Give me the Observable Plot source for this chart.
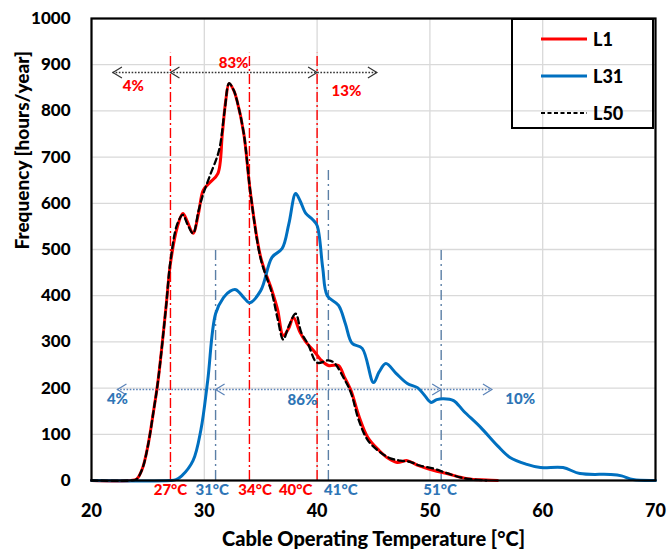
<!DOCTYPE html>
<html><head><meta charset="utf-8">
<script src="https://cdn.jsdelivr.net/npm/d3@7"></script>
<script src="https://cdn.jsdelivr.net/npm/@observablehq/plot@0.6"></script>
<style>
body{margin:0;background:#fff;font-family:Lato,"Open Sans",sans-serif}
#wrap{position:relative;width:667px;height:551px}
#legend{position:absolute;left:511px;top:18px;width:143px;height:111px;box-sizing:border-box;border:2px solid #000;}
#legend .item{position:absolute;left:28px;display:flex;align-items:center;font-weight:900;font-size:18px;color:#000}
#legend svg{margin-right:6px}
</style>
</head><body><div id="wrap"><div id="legend"></div></div>
<script>
// ---- data ----
const seriesNames = ["L1", "L31", "L50"];
const seriesColors = ["#FF0000", "#0070C0", "#000000"];

const l1Temp = [20,23.5,24,24.5,25,25.5,25.9,26.6,27,27.6,28.1,28.5,29,29.5,29.9,30.5,31.2,31.6,31.9,32.2,32.6,32.9,33.5,34.1,35,36,36.5,37,37.5,37.9,38.5,39,39.7,40.3,41,41.9,42.4,43,43.7,44.5,45.5,46.3,47.1,48,49,50.3,51.5,53.3,55,56];
const l1Freq = [0,0,3,25,75,150,216,374,470,548,578,560,535,580,628,645,664,751,822,859,845,822,751,621,483,411,370,314,330,353,320,300,281,262,249,249,225,195,140,93,65,48,39,43,32,22,15,4,1,0];

const l31Temp = [20,27,27.5,28,29,29.7,30.3,31,31.7,32.3,32.8,33.5,34,35,36,36.9,37.5,38.1,38.5,39,39.6,40,40.5,40.9,41.9,42.5,43.1,44,45,45.5,46.1,47,48,48.9,49.5,50.1,50.6,51.2,52.1,53,54.5,56,57.1,58.6,59.8,61.8,63.3,66,67,68,70];
const l31Freq = [0,0,2,10,43,110,216,361,396,410,413,396,385,411,483,502,556,621,605,578,565,552,460,400,379,340,297,286,212,235,253,232,210,201,185,169,175,177,173,150,115,75,50,35,28,28,15,13,10,2,0];

const l50Temp = [20,23.5,24,24.5,25,25.5,25.9,26.6,27,27.6,28.1,28.5,29,29.5,29.9,30.5,31.3,31.8,32.2,32.6,32.9,33.5,34.1,35,36,36.5,37,37.5,38.1,38.6,39.2,40,41,41.5,42.4,43,43.7,44.5,45.6,46.5,47.4,48.3,49,50.3,51.5,53,55];
const l50Freq = [0,0,3,25,75,150,216,374,475,555,575,555,535,585,620,660,714,800,860,845,822,751,621,480,405,350,305,335,361,320,295,255,260,255,220,190,130,87,61,48,43,40,33,26,16,5,0];

const xTicks = [20,30,40,50,60,70];
const yTicks = [0,100,200,300,400,500,600,700,800,900,1000];

// L1/L50 thresholds (red) and L31 thresholds (blue)
const redLimits = [27, 34, 40];
const redLimitTop = 925;
const blueLimits = [31, 41, 51];
const blueLimitTops = [500, 675, 500];

// Degree labels below the axis
const degLabels = ["27°C","31°C","34°C","40°C","41°C","51°C"];
const degLabelX = [27, 30.7, 34.5, 38.1, 42.1, 50.9];
const degLabelColor = ["red","blue","red","red","blue","blue"];

// Share arrows
const redArrowSpan = [21.9, 45.3];
const redArrowLevel = 883;
const redArrowLeftTips = [21.9, 27];
const redArrowRightTips = [40, 45.3];
const redShares = ["4%", "83%", "13%"];
const redShareX = [23.7, 32.6, 42.6];
const redShareY = [853, 903, 842];

const blueArrowSpan = [22.3, 55.5];
const blueArrowLevel = 197;
const blueArrowLeftTips = [22.3, 31];
const blueArrowRightTips = [51, 55.5];
const blueShares = ["4%", "86%", "10%"];
const blueShareX = [22.3, 38.7, 58.0];
const blueShareY = [175, 174, 175];

// ---- build tables ----
const mk = (t, f, s) => t.map((x, i) => ({temp: x, freq: f[i], series: s}));
const l1 = mk(l1Temp, l1Freq, "L1");
const l31 = mk(l31Temp, l31Freq, "L31");
const l50 = mk(l50Temp, l50Freq, "L50");

const colorOf = {red: "#FF0000", blue: "#2E75B6"};
const degData = degLabels.map((t, i) => ({t, x: degLabelX[i], c: colorOf[degLabelColor[i]]}));
const redShareData = redShares.map((t, i) => ({t, x: redShareX[i], y: redShareY[i]}));
const blueShareData = blueShares.map((t, i) => ({t, x: blueShareX[i], y: blueShareY[i]}));

const leftHead = {draw(ctx) { ctx.moveTo(9, -5.5); ctx.lineTo(0, 0); ctx.lineTo(9, 5.5); }};
const rightHead = {draw(ctx) { ctx.moveTo(-9, -5.5); ctx.lineTo(0, 0); ctx.lineTo(-9, 5.5); }};

const redArrowColor = "#333333";
const blueArrowColor = "#5B83B8";
const font = "Lato, 'Open Sans', sans-serif";

const chart = Plot.plot({
  width: 667, height: 551,
  marginLeft: 91, marginRight: 12, marginTop: 18, marginBottom: 71,
  style: {fontFamily: font, fontWeight: "bold", color: "#000", background: "#fff"},
  x: {domain: [20, 70]},
  y: {domain: [0, 1000]},
  marks: [
    Plot.gridX(xTicks, {stroke: "#d9d9d9", strokeOpacity: 1, strokeWidth: 1.3}),
    Plot.gridY(yTicks, {stroke: "#d9d9d9", strokeOpacity: 1, strokeWidth: 1.3}),
    Plot.ruleX(redLimits, {x: d => d, y1: 0, y2: redLimitTop, stroke: "#FF0000", strokeWidth: 1.4, strokeDasharray: "10,3,2,3"}),
    Plot.ruleX(blueLimits, {x: d => d, y1: 0, y2: (d, i) => blueLimitTops[i], stroke: "#5B7FA6", strokeWidth: 1.4, strokeDasharray: "10,4,2,4"}),
    Plot.ruleY([redArrowLevel], {y: d => d, x1: redArrowSpan[0], x2: redArrowSpan[1], stroke: redArrowColor, strokeWidth: 1.6, strokeDasharray: "1.6,1.6"}),
    Plot.dot(redArrowLeftTips, {x: d => d, y: redArrowLevel, symbol: leftHead, fill: "none", stroke: redArrowColor, strokeWidth: 1.2}),
    Plot.dot(redArrowRightTips, {x: d => d, y: redArrowLevel, symbol: rightHead, fill: "none", stroke: redArrowColor, strokeWidth: 1.2}),
    Plot.ruleY([blueArrowLevel], {y: d => d, x1: blueArrowSpan[0], x2: blueArrowSpan[1], stroke: blueArrowColor, strokeWidth: 1.6, strokeDasharray: "1.6,1.6"}),
    Plot.dot(blueArrowLeftTips, {x: d => d, y: blueArrowLevel, symbol: leftHead, fill: "none", stroke: blueArrowColor, strokeWidth: 1.2}),
    Plot.dot(blueArrowRightTips, {x: d => d, y: blueArrowLevel, symbol: rightHead, fill: "none", stroke: blueArrowColor, strokeWidth: 1.2}),
    Plot.line(l1, {x: "temp", y: "freq", stroke: seriesColors[0], strokeWidth: 3, curve: "catmull-rom"}),
    Plot.line(l31, {x: "temp", y: "freq", stroke: seriesColors[1], strokeWidth: 3, curve: "catmull-rom"}),
    Plot.line(l50, {x: "temp", y: "freq", stroke: seriesColors[2], strokeWidth: 2.3, strokeDasharray: "6,4", curve: "catmull-rom"}),
    Plot.text(redShareData, {x: "x", y: "y", text: "t", fill: "#FF0000", fontSize: 15, fontWeight: 900}),
    Plot.text(blueShareData, {x: "x", y: "y", text: "t", fill: "#2E75B6", fontSize: 15, fontWeight: 900}),
    Plot.text(degData, {x: "x", y: -22, text: "t", fill: "c", fontSize: 15, fontWeight: 900}),
    Plot.frame({stroke: "#000", strokeWidth: 2.2}),
    Plot.axisX(xTicks, {tickSize: 0, tickPadding: 24, fontSize: 18, fontWeight: 900, label: null}),
    Plot.axisY(yTicks, {tickSize: 0, tickPadding: 21, fontSize: 17, fontWeight: 900, label: null, tickFormat: d => String(d)}),
    Plot.text(["Cable Operating Temperature [°C]"], {frameAnchor: "bottom", dy: 65, fontSize: 20, fontWeight: 900, fill: "#000"}),
    Plot.text(["Frequency [hours/year]"], {frameAnchor: "left", dx: -69, rotate: -90, fontSize: 19, fontWeight: 900, fill: "#000"})
  ]
});
const wrap = document.getElementById("wrap");
wrap.insertBefore(chart, wrap.firstChild);

// legend
const legend = document.getElementById("legend");
const legendTops = [8, 45, 82];
seriesNames.forEach((name, i) => {
  const item = document.createElement("div");
  item.className = "item";
  item.style.top = legendTops[i] + "px";
  const dash = name === "L50" ? 'stroke-dasharray="4,2.5" stroke-width="2"' : 'stroke-width="3"';
  item.innerHTML = `<svg width="46" height="20"><line x1="0" x2="46" y1="10" y2="10" stroke="${seriesColors[i]}" ${dash}/></svg><span>${name}</span>`;
  legend.appendChild(item);
});
</script>
</body></html>
